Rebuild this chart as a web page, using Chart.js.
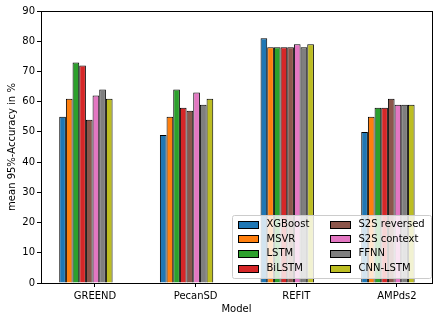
<!DOCTYPE html>
<html><head><meta charset="utf-8">
<script src="https://cdn.jsdelivr.net/npm/chart.js@4/dist/chart.umd.min.js"></script>
<style>html,body{margin:0;padding:0;background:#fff}#wrap{width:438px;height:321px}</style>
</head><body><div id="wrap"><canvas id="c" width="438" height="321"></canvas></div>
<script>
const categories = ["GREEND", "PecanSD", "REFIT", "AMPds2"];
const seriesNames = ["XGBoost", "MSVR", "LSTM", "BiLSTM", "S2S reversed", "S2S context", "FFNN", "CNN-LSTM"];
const xgboost     = [55, 49, 81, 50];
const msvr        = [61, 55, 78, 55];
const lstm        = [73, 64, 78, 58];
const bilstm      = [72, 58, 78, 58];
const s2sReversed = [54, 57, 78, 61];
const s2sContext  = [62, 63, 79, 59];
const ffnn        = [64, 59, 78, 59];
const cnnLstm     = [61, 61, 79, 59];
const yTicks = [0, 10, 20, 30, 40, 50, 60, 70, 80, 90];
const colors = ["#1f77b4", "#ff7f0e", "#2ca02c", "#d62728", "#8c564b", "#e377c2", "#7f7f7f", "#bcbd22"];
const seriesValues = [xgboost, msvr, lstm, bilstm, s2sReversed, s2sContext, ffnn, cnnLstm];
const groupOffset = -0.09;

const FONT = "DejaVu Sans";
Chart.defaults.font.family = FONT;
Chart.defaults.font.size = 10;
Chart.defaults.color = "#000";

const framePlugin = {
  id: "frame",
  afterDraw(chart) {
    const ctx = chart.ctx, a = chart.chartArea;
    ctx.save();
    ctx.strokeStyle = "#000";
    ctx.lineWidth = 1;
    ctx.strokeRect(Math.round(a.left) + 0.5, Math.round(a.top) + 0.5, Math.round(a.right - a.left), Math.round(a.bottom - a.top));
    const bx = 232.5, by = 215.5, bw = 199, bh = 63;
    ctx.fillStyle = "rgba(255,255,255,0.8)";
    ctx.strokeStyle = "#cccccc";
    ctx.beginPath();
    if (ctx.roundRect) ctx.roundRect(bx, by, bw, bh, 2); else ctx.rect(bx, by, bw, bh);
    ctx.fill(); ctx.stroke();
    ctx.font = "10px " + FONT;
    ctx.textBaseline = "middle";
    ctx.textAlign = "left";
    chart.data.datasets.forEach((ds, i) => {
      const col = Math.floor(i / 4), row = i % 4;
      const sx = col === 0 ? 238.5 : 330.5;
      const cy = 224 + row * 14.7;
      ctx.fillStyle = ds.backgroundColor;
      ctx.fillRect(sx, Math.round(cy - 3.5) + 0.5, 20, 7);
      ctx.strokeStyle = "#000";
      ctx.strokeRect(sx, Math.round(cy - 3.5) + 0.5, 20, 7);
      ctx.fillStyle = "#000";
      ctx.fillText(ds.label, sx + 28, cy + 0.5);
    });
    ctx.restore();
  }
};

new Chart(document.getElementById("c"), {
  type: "bar",
  data: {
    datasets: seriesNames.map((n, i) => ({
      label: n,
      data: categories.map((c, j) => ({ x: j + groupOffset, y: seriesValues[i][j] })),
      backgroundColor: colors[i],
      borderColor: "#000",
      borderWidth: 1,
      categoryPercentage: 0.53,
      barPercentage: 1.0
    }))
  },
  options: {
    responsive: false,
    animation: false,
    devicePixelRatio: 1,
    layout: { padding: { left: 0, right: 6, top: 11, bottom: 0 } },
    plugins: { legend: { display: false }, tooltip: { enabled: false } },
    scales: {
      x: {
        type: "linear",
        min: -0.536, max: 3.348,
        offset: false,
        afterBuildTicks(s) { s.ticks = categories.map((c, j) => ({ value: j })); },
        grid: { display: true, offset: false, drawOnChartArea: false, tickLength: 4, color: "#000", tickColor: "#000" },
        border: { display: false },
        ticks: { padding: 3, color: "#000", font: { size: 10 }, maxRotation: 0, autoSkip: false,
                 callback(v) { return categories[Math.round(v)]; } },
        title: { display: true, text: "Model", color: "#000", font: { size: 10 }, padding: { top: 2, bottom: 6 } },
        afterFit(s) { s.height = 38; }
      },
      y: {
        min: 0, max: 90,
        afterBuildTicks(s) { s.ticks = yTicks.map(v => ({ value: v })); },
        grid: { display: true, drawOnChartArea: false, tickLength: 4, color: "#000", tickColor: "#000" },
        border: { display: false },
        ticks: { padding: 2, color: "#000", font: { size: 10 } },
        title: { display: true, text: "mean 95%-Accuracy in %", color: "#000", font: { size: 10 }, padding: { top: 6, bottom: 2 } },
        afterFit(s) { s.width = 41; }
      }
    }
  },
  plugins: [framePlugin]
});
</script></body></html>
